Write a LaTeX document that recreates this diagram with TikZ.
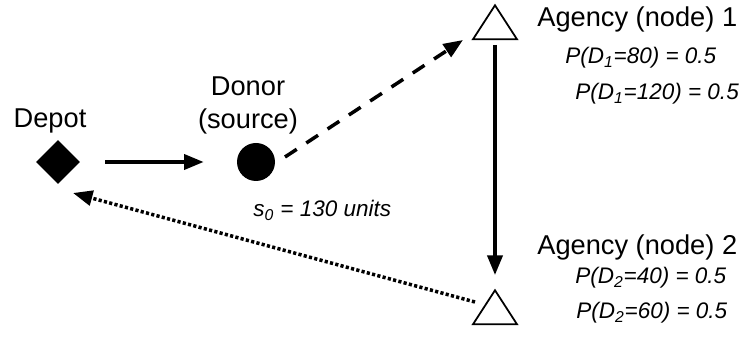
\documentclass[tikz,border=0pt]{standalone}
\usepackage{fontspec}
\setmainfont{Liberation Sans}
\usetikzlibrary{arrows.meta,shapes.geometric}

\begin{document}
\begin{tikzpicture}[
  font=\fontsize{15.5}{18.6}\selectfont,
  depotshape/.style={diamond, fill=black, inner sep=0pt, minimum width=8.8mm, minimum height=8.8mm},
  donorshape/.style={circle, fill=black, inner sep=0pt, minimum size=7.6mm},
  agency/.style={isosceles triangle, isosceles triangle stretches, shape border rotate=90,
                 draw=black, line width=1pt, inner sep=0pt, minimum width=8.8mm,
                 minimum height=6.8mm, anchor=apex},
  lbl/.style={align=center, inner sep=0pt},
  prob/.style={font=\fontsize{12.8}{15}\selectfont\itshape, anchor=base west, inner sep=0pt},
  >={Triangle[length=3.9mm, width=3mm]},
  flow/.style={->, line width=2pt},
  dflow/.style={flow, dash pattern=on 8pt off 6.5pt},
  pflow/.style={flow, dash pattern=on 1.8pt off 1.3pt},
]
\useasboundingbox (0,0) rectangle (15,-6.82);
% ----- depot and donor -----
\node[depotshape] (depot) at (1.16,-3.24) {};
\node[lbl, anchor=base] (depotlbl) at (1.0,-2.56) {Depot};
\node[donorshape] (donor) at (5.12,-3.24) {};
\node[lbl, anchor=south] (donorlbl) at (4.96,-2.68) {Donor\\(source)};
\node[prob] (supply) at (5.06,-4.33) {s\textsubscript{0} = 130 units};
% ----- agencies -----
\node[agency] (ag1) at (9.9,-0.06) {};
\node[lbl, anchor=base west] (ag1lbl) at (10.74,-0.54) {Agency (node) 1};
\node[prob] (p1a) at (11.3,-1.28) {P(D\textsubscript{1}=80) = 0.5};
\node[prob] (p1b) at (11.5,-2.0) {P(D\textsubscript{1}=120) = 0.5};
\node[agency] (ag2) at (9.9,-5.76) {};
\node[lbl, anchor=base west] (ag2lbl) at (10.74,-5.1) {Agency (node) 2};
\node[prob] (p2a) at (11.5,-5.68) {P(D\textsubscript{2}=40) = 0.5};
\node[prob] (p2b) at (11.52,-6.38) {P(D\textsubscript{2}=60) = 0.5};
% ----- routes -----
\draw[flow, shorten <=0.5cm, shorten >=0.66cm] (depot) -- (donor);
\draw[dflow] ([shift={(0.58,0.1)}]donor.center) -- ([shift={(-0.64,-0.74)}]ag1.apex);
\draw[flow] ([yshift=-0.84cm]ag1.apex) -- ([yshift=0.26cm]ag2.apex);
\draw[pflow] ([shift={(-0.4,-0.28)}]ag2.apex) -- ([shift={(0.3,-0.62)}]depot.center);
\end{tikzpicture}
\end{document}
